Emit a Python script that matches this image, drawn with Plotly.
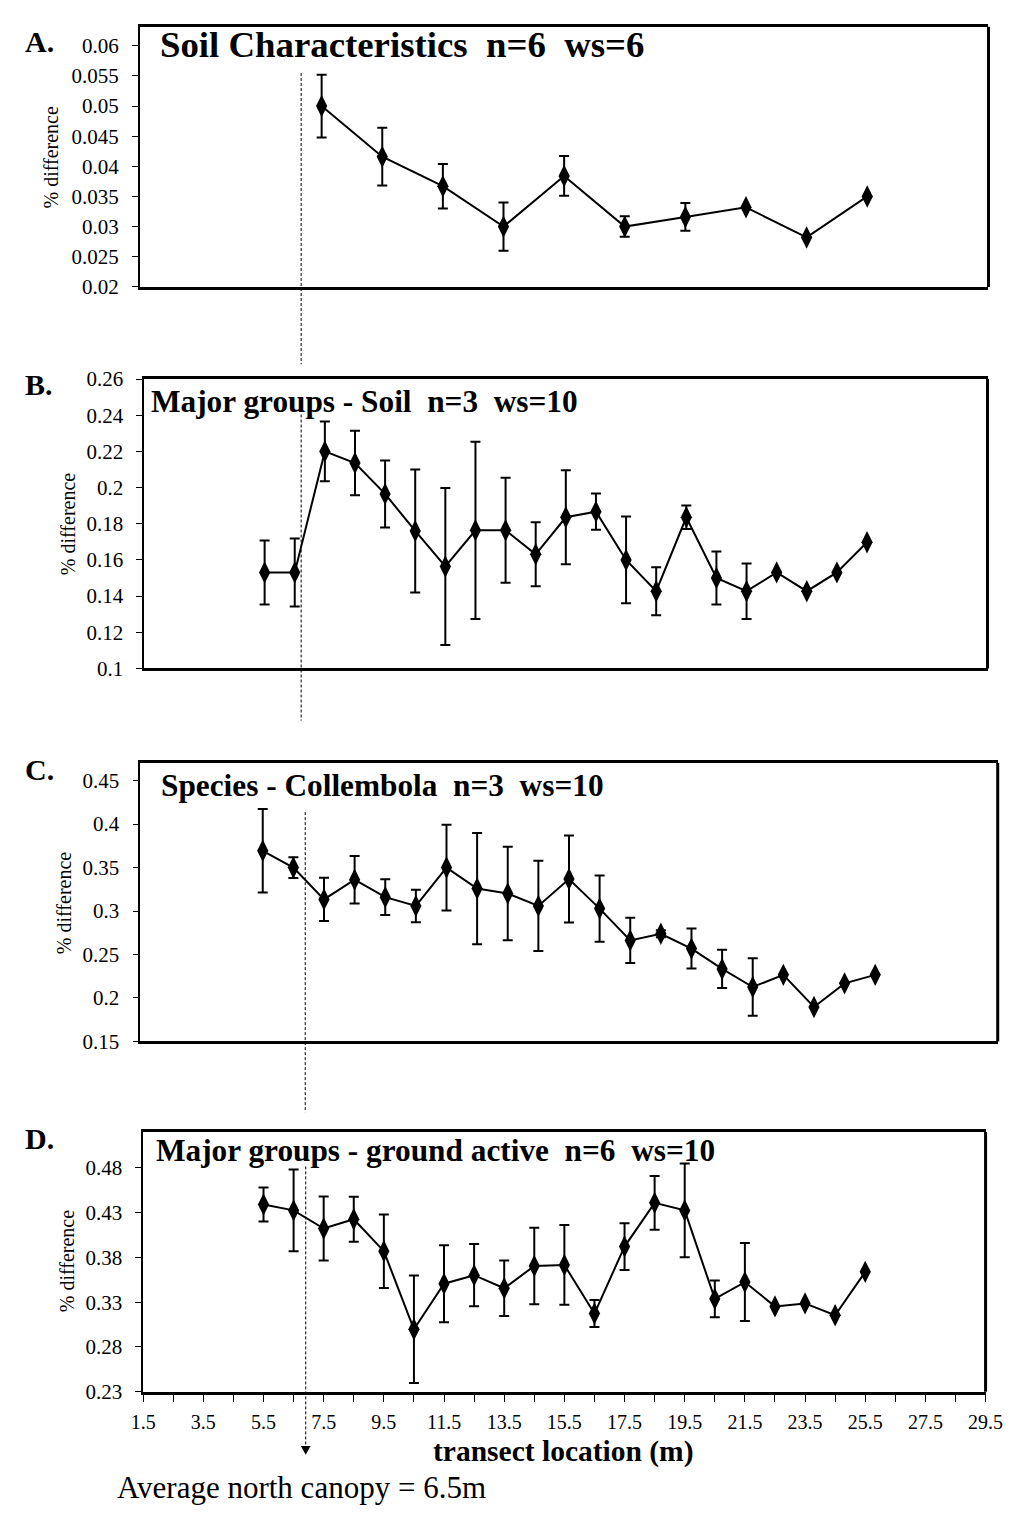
import plotly.graph_objects as go

W, H = 1022, 1515
SERIF = "Liberation Serif, Times New Roman, serif"

# ---------------- data ----------------
x_labels = ["1.5", "3.5", "5.5", "7.5", "9.5", "11.5", "13.5", "15.5", "17.5",
            "19.5", "21.5", "23.5", "25.5", "27.5", "29.5"]

A_x = [7.5, 9.5, 11.5, 13.5, 15.5, 17.5, 19.5, 21.5, 23.5, 25.5]
A_y = [0.0500, 0.0416, 0.0367, 0.0300, 0.0384, 0.0300, 0.0316, 0.0332, 0.0282, 0.0350]
A_err = [0.0052, 0.0048, 0.0037, 0.0040, 0.0033, 0.0017, 0.0023, None, None, None]

BCD_x = [5.5, 6.5, 7.5, 8.5, 9.5, 10.5, 11.5, 12.5, 13.5, 14.5, 15.5, 16.5, 17.5,
         18.5, 19.5, 20.5, 21.5, 22.5, 23.5, 24.5, 25.5]

B_y = [0.1531, 0.1531, 0.2200, 0.2136, 0.1965, 0.1760, 0.1564, 0.1764, 0.1764, 0.1631,
       0.1836, 0.1867, 0.1600, 0.1427, 0.1836, 0.1500, 0.1427, 0.1531, 0.1427, 0.1531, 0.1698]
B_err = [0.0177, 0.0188, 0.0165, 0.0178, 0.0185, 0.0340, 0.0434, 0.0490, 0.0290, 0.0177,
         0.0260, 0.0100, 0.0240, 0.0133, 0.0065, 0.0146, 0.0153, None, None, None, None]

C_y = [0.3693, 0.3500, 0.3134, 0.3361, 0.3160, 0.3059, 0.3500, 0.3259, 0.3202, 0.3059,
       0.3368, 0.3028, 0.2662, 0.2738, 0.2568, 0.2334, 0.2126, 0.2266, 0.1896, 0.2168, 0.2266]
C_err = [0.048, 0.012, 0.025, 0.0273, 0.0207, 0.0187, 0.0494, 0.064, 0.0538, 0.052,
         0.050, 0.038, 0.026, 0.004, 0.023, 0.022, 0.033, None, None, None, None]

D_y = [0.4390, 0.4324, 0.4122, 0.4225, 0.3869, 0.2997, 0.3506, 0.3601, 0.3455, 0.3704,
       0.3715, 0.3173, 0.3920, 0.4408, 0.4324, 0.3337, 0.3524, 0.3253, 0.3286, 0.3154, 0.3638]
D_err = [0.019, 0.0456, 0.0357, 0.025, 0.041, 0.060, 0.043, 0.0347, 0.031, 0.0427,
         0.0445, 0.015, 0.026, 0.030, 0.0523, 0.0205, 0.0435, None, None, None, None]

A_ticks = ["0.02", "0.025", "0.03", "0.035", "0.04", "0.045", "0.05", "0.055", "0.06"]
B_ticks = ["0.1", "0.12", "0.14", "0.16", "0.18", "0.2", "0.22", "0.24", "0.26"]
C_ticks = ["0.15", "0.2", "0.25", "0.3", "0.35", "0.4", "0.45"]
D_ticks = ["0.23", "0.28", "0.33", "0.38", "0.43", "0.48"]

titles = ["Soil Characteristics  n=6  ws=6",
          "Major groups - Soil  n=3  ws=10",
          "Species - Collembola  n=3  ws=10",
          "Major groups - ground active  n=6  ws=10"]
letters = ["A.", "B.", "C.", "D."]
x_title = "transect location (m)"
canopy_note = "Average north canopy = 6.5m"

# ---------------- layout geometry (pixels) ----------------
# (left, right, top, bottom) of each plot frame
frames = [(131.5, 1005, 15, 279.3),
          (136, 1004, 373, 667),
          (132, 1014.5, 763, 1046),
          (135, 1002, 1138, 1402)]
yranges = [[0.02, 0.06315], [0.1, 0.26], [0.15, 0.4704], [0.23, 0.5199]]
xrange_ = [1.5, 29.5]

def px(x):
    return x / W

def py(y):
    return 1 - y / H

fig = go.Figure()

series = [(A_x, A_y, A_err), (BCD_x, B_y, B_err), (BCD_x, C_y, C_err), (BCD_x, D_y, D_err)]
ticklists = [A_ticks, B_ticks, C_ticks, D_ticks]

for i, (xs, ys, es) in enumerate(series):
    n = i + 1
    xa = "x" if n == 1 else f"x{n}"
    ya = "y" if n == 1 else f"y{n}"
    fig.add_trace(go.Scatter(
        x=xs, y=ys, xaxis=xa, yaxis=ya, mode="lines+markers",
        line=dict(color="black", width=2),
        marker=dict(symbol="diamond-tall", size=16, color="black"),
        error_y=dict(type="data", array=es, visible=True, color="black",
                     thickness=2, width=5),
        showlegend=False, hoverinfo="skip"))

layout = dict(
    width=W, height=H, autosize=False,
    margin=dict(l=0, r=0, t=0, b=0),
    paper_bgcolor="white", plot_bgcolor="white",
    font=dict(family=SERIF, color="black"),
    showlegend=False,
)

shapes = []
annotations = []

for i in range(4):
    n = i + 1
    L, R, T, B = frames[i]
    sfx = "" if n == 1 else str(n)
    xkey = "xaxis" + sfx
    ykey = "yaxis" + sfx
    tvals = [float(t) for t in ticklists[i]]
    is_bottom = (n == 4)
    xall = [1.5 + k for k in range(29)]
    xtext = [f"{v:g}" if f"{v:g}" in x_labels else "" for v in xall]
    layout[xkey] = dict(
        domain=[px(L), px(R)], range=xrange_, anchor="y" + sfx,
        showgrid=False, zeroline=False, showline=True, linewidth=3, linecolor="black",
        mirror=True,
        tickmode="array", tickvals=xall, ticktext=xtext,
        ticks="outside" if is_bottom else "", ticklen=7, tickwidth=1, tickcolor="black",
        showticklabels=is_bottom, ticklabelstandoff=3,
        tickfont=dict(family=SERIF, size=20, color="black"),
    )
    layout[ykey] = dict(
        domain=[py(B), py(T)], range=yranges[i], anchor="x" + sfx,
        showgrid=False, zeroline=False, showline=True, linewidth=1.5, linecolor="black",
        tickmode="array", tickvals=tvals, ticktext=ticklists[i],
        ticks="outside", ticklen=6, tickwidth=1, tickcolor="black",
        ticklabelstandoff=9,
        tickfont=dict(family=SERIF, size=21, color="black"),
    )
    # overlay y axis for cross-style tick marks
    oy = 4 + n
    layout[f"yaxis{oy}"] = dict(
        overlaying="y" + sfx, range=yranges[i], anchor="x" + sfx, side="left",
        showgrid=False, zeroline=False, showline=False,
        tickmode="array", tickvals=tvals, ticks="inside", ticklen=6, tickwidth=1,
        tickcolor="black", showticklabels=False)
    # right frame line
    shapes.append(dict(type="line", xref=f"x{sfx} domain", yref=f"y{sfx} domain",
                       x0=1, x1=1, y0=0, y1=1, line=dict(color="black", width=3)))

# overlay x axis for cross-style ticks on panel D
layout["xaxis5"] = dict(
    overlaying="x4", range=xrange_, anchor="y4", side="bottom",
    showgrid=False, zeroline=False, showline=False,
    tickmode="array", tickvals=[1.5 + k for k in range(29)], ticks="inside",
    ticklen=6, tickwidth=1, tickcolor="black", showticklabels=False)

# titles, letters, y titles
title_pos = [(150, 33.5, 36.8), (141, 396, 31.3), (151, 786, 31.3), (146, 1157, 31.3)]
letter_pos = [30, 378, 770, 1145]
ytitle_pos = [(40, 148), (57, 520), (53, 905), (57, 1269)]
for i in range(4):
    x0, y0, fs = title_pos[i]
    annotations.append(dict(text=f"<b>{titles[i]}</b>", xref="paper", yref="paper",
                            x=px(x0), y=py(y0), xanchor="left", yanchor="middle",
                            showarrow=False, font=dict(family=SERIF, size=fs, color="black")))
    annotations.append(dict(text=f"<b>{letters[i]}</b>", xref="paper", yref="paper",
                            x=px(11), y=py(letter_pos[i]), xanchor="left", yanchor="middle",
                            showarrow=False, font=dict(family=SERIF, size=30, color="black")))
    annotations.append(dict(text="% difference", xref="paper", yref="paper",
                            x=px(ytitle_pos[i][0]), y=py(ytitle_pos[i][1]),
                            xanchor="center", yanchor="middle", textangle=-90,
                            showarrow=False, font=dict(family=SERIF, size=20, color="black")))

annotations.append(dict(text=f"<b>{x_title}</b>", xref="paper", yref="paper",
                        x=px(568), y=py(1463), xanchor="center", yanchor="middle",
                        showarrow=False, font=dict(family=SERIF, size=29.5, color="black")))
annotations.append(dict(text=canopy_note, xref="paper", yref="paper",
                        x=px(106), y=py(1499), xanchor="left", yanchor="middle",
                        showarrow=False, font=dict(family=SERIF, size=31, color="black")))

# dashed canopy marker segments (pixel positions)
segs = [(297.6, 62, 358), (297.6, 409, 720), (301.8, 813, 1118), (302.3, 1173, 1458)]
for xx, y0, y1 in segs:
    shapes.append(dict(type="line", xref="paper", yref="paper",
                       x0=px(xx), x1=px(xx), y0=py(y0), y1=py(y1),
                       line=dict(color="black", width=1, dash="3px,2px")))
# arrowhead
ax, ay = 302.3, 1466
shapes.append(dict(type="path", xref="paper", yref="paper",
                   path=f"M {px(ax-5)} {py(ay-9)} L {px(ax+5)} {py(ay-9)} L {px(ax)} {py(ay)} Z",
                   fillcolor="black", line=dict(color="black", width=0)))

layout["shapes"] = shapes
layout["annotations"] = annotations
fig.update_layout(**layout)
fig.write_html("out.html")
